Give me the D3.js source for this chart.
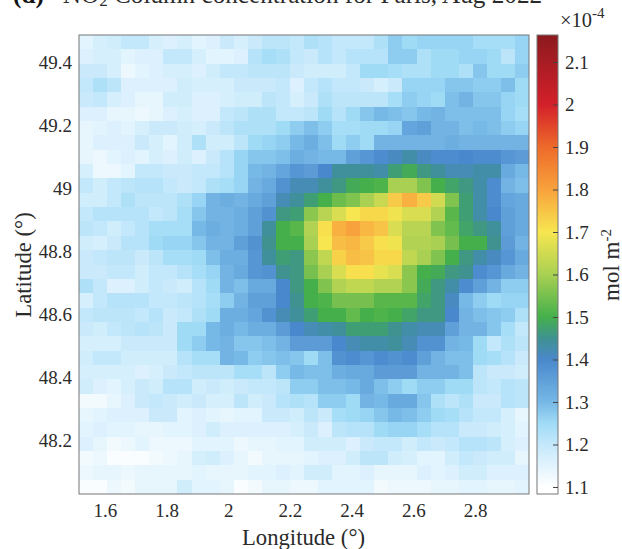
<!DOCTYPE html>
<html><head><meta charset="utf-8">
<script src="https://d3js.org/d3.v7.min.js"></script>
<style>html,body{margin:0;padding:0;background:#fff}svg{display:block}text{font-family:"Liberation Serif",serif}</style>
</head><body><svg id="c" width="622" height="549"></svg>
<script>
// NO2 column, in units of 1e-6 mol m-2; rows top (north) to bottom, columns west to east
const grid = [
[115,117,118,120,120,117,116,117,115,116,119,117,119,121,121,120,123,122,120,120,120,123,127,125,126,126,126,126,124,124,124,126],
[116,117,117,115,116,116,120,120,117,115,115,116,122,124,123,120,119,122,120,122,122,122,127,127,123,125,125,126,126,125,121,126],
[119,119,117,113,115,116,117,117,116,118,120,120,121,121,121,119,118,118,118,120,125,125,124,123,123,125,125,123,128,125,125,127],
[120,123,121,116,116,116,116,118,117,117,117,119,119,119,120,116,120,122,120,120,119,117,119,126,126,126,128,128,127,127,129,125],
[119,120,117,116,114,114,118,118,116,116,117,118,118,121,120,117,119,123,121,121,121,121,124,127,126,125,129,131,128,128,126,125],
[116,116,114,114,113,114,116,117,116,116,120,121,123,123,120,120,121,125,122,125,128,130,129,128,130,131,129,129,129,129,126,124],
[114,115,116,115,117,119,119,118,117,119,121,123,123,123,125,127,129,127,124,124,125,125,126,134,135,131,131,129,130,129,127,126],
[114,116,116,116,119,117,115,118,123,118,118,121,125,126,127,130,132,129,125,127,125,131,131,131,131,131,132,131,131,131,131,131],
[114,113,115,116,115,117,116,118,116,119,122,126,128,128,129,132,131,130,130,135,137,139,141,143,141,139,139,140,139,139,137,136],
[117,113,113,115,120,120,119,119,120,120,122,126,130,131,134,137,136,140,144,144,144,143,147,149,146,144,142,142,143,143,133,130],
[120,118,120,121,122,122,120,119,120,123,124,126,131,133,138,142,142,144,146,149,150,151,160,160,156,150,148,146,143,139,131,129],
[118,118,120,123,121,121,121,123,126,131,132,131,133,135,142,144,147,150,154,156,160,164,174,178,174,165,156,147,143,139,134,133],
[120,122,122,122,122,120,121,124,128,131,131,132,135,138,146,147,157,162,166,170,172,172,169,166,166,161,152,147,143,140,135,133],
[121,120,118,120,122,124,124,124,130,132,131,132,135,144,150,152,161,171,178,180,177,175,166,162,162,156,153,148,146,144,135,133],
[118,117,119,122,122,125,126,126,128,131,131,135,138,145,150,150,160,170,176,177,174,171,169,161,161,160,155,150,150,145,136,131],
[119,120,121,121,119,121,124,124,125,129,132,132,137,144,147,146,157,163,173,176,175,172,172,163,160,156,150,146,143,141,137,133],
[119,119,120,120,118,120,120,122,124,126,131,133,137,138,145,146,155,160,166,171,171,168,166,157,150,149,146,145,139,137,133,131],
[123,120,116,116,118,120,119,118,122,125,131,129,133,133,140,146,150,156,161,163,163,161,161,157,149,146,143,139,135,131,127,127],
[117,120,122,122,122,120,120,121,122,124,127,131,135,135,140,145,150,151,155,155,155,152,152,152,148,146,141,130,127,125,126,126],
[120,121,121,121,120,122,119,120,123,125,132,132,134,138,142,144,147,150,150,153,150,151,150,148,146,146,140,131,129,128,127,123],
[119,118,120,121,122,121,119,125,125,130,132,130,132,132,136,140,142,143,144,147,147,147,145,143,142,142,135,131,131,128,124,120],
[117,117,117,119,119,119,119,125,127,130,131,128,128,129,131,136,136,136,140,142,143,143,144,142,138,138,131,130,125,120,123,121],
[118,120,120,118,118,118,118,122,124,124,131,130,127,128,129,128,125,129,138,139,137,139,138,139,135,131,129,129,125,124,122,119],
[117,117,117,117,116,117,119,120,121,121,121,124,124,121,127,130,129,129,132,133,133,136,136,136,131,131,131,129,121,119,119,118],
[118,116,115,117,119,118,122,122,118,119,118,119,120,120,121,127,127,129,129,130,133,129,127,125,127,127,125,125,121,120,122,121],
[112,112,114,116,119,120,119,118,119,117,117,121,118,119,122,123,122,127,127,125,131,130,133,133,128,123,121,123,119,119,122,121],
[114,115,116,116,116,119,119,115,116,115,114,115,115,119,119,118,121,119,124,125,126,128,130,129,127,125,124,122,120,120,117,114],
[115,116,115,115,114,114,115,115,116,118,116,116,116,116,116,117,119,116,121,122,122,125,126,126,124,122,122,119,119,118,117,115],
[116,114,112,113,115,113,113,113,115,115,115,113,114,114,115,115,118,118,118,116,119,120,120,118,120,119,120,122,122,121,117,116],
[112,113,111,111,111,112,113,114,117,118,116,114,112,114,114,114,115,116,116,118,121,121,118,117,115,115,118,120,119,118,118,114],
[113,114,114,113,114,114,114,114,115,114,114,114,115,115,116,115,118,118,115,115,116,114,114,114,116,115,116,118,118,116,116,116],
[111,111,113,112,114,114,114,118,115,115,114,111,112,114,114,113,113,115,115,115,115,112,113,113,113,114,114,115,115,114,114,115]
];
const lonDomain = [1.516, 2.975];
const latDomain = [48.03, 49.486];
const lonTicks = [1.6,1.8,2,2.2,2.4,2.6,2.8];
const latTicks = [48.2,48.4,48.6,48.8,49,49.2,49.4];
const cbDomain = [108.35, 216.35];
const cbTicks = [110,120,130,140,150,160,170,180,190,200,210];
const colorStops = [110,120,125,130,140,145,150,160,170,180,190,200,210,216.35];
const colorHex = ["#ffffff","#c4e8fb","#a0dbf6","#76b8e6","#4a88cc","#3f9290","#45b04b","#a9d052","#f7e650","#f8a23c","#ee6a2a","#d3202a","#a81c24","#8b1a1e"];
const title = "NO";
const titleRest = " Column concentration for Paris, Aug 2022";
const ink = "#2b2b2b";

const P = {l:79,r:529,t:35,b:494};
const svg = d3.select("#c");
const defs = svg.append("defs");
defs.append("filter").attr("id","soft").attr("x","-2%").attr("y","-2%").attr("width","104%").attr("height","104%")
  .append("feGaussianBlur").attr("stdDeviation",0.55);
defs.append("clipPath").attr("id","plot").append("rect")
  .attr("x",P.l).attr("y",P.t).attr("width",P.r-P.l).attr("height",P.b-P.t);
const color = d3.scaleLinear().domain(colorStops).range(colorHex).clamp(true);
const x = d3.scaleLinear().domain(lonDomain).range([P.l,P.r]);
const y = d3.scaleLinear().domain(latDomain).range([P.b,P.t]);
const bx = d3.scaleBand().domain(d3.range(32)).range([P.l,P.r]);
const by = d3.scaleBand().domain(d3.range(32)).range([P.t,P.b]);

svg.append("g").attr("clip-path","url(#plot)").append("g").attr("filter","url(#soft)")
  .attr("shape-rendering","crispEdges").selectAll("g").data(grid).join("g")
  .each(function(row,i){
    d3.select(this).selectAll("rect").data(row).join("rect")
      .attr("x",(d,j)=>bx(j)).attr("y",by(i))
      .attr("width",bx.bandwidth()+0.5).attr("height",by.bandwidth()+0.5)
      .attr("fill",d=>color(d));
  });
svg.append("rect").attr("x",P.l).attr("y",P.t).attr("width",P.r-P.l).attr("height",P.b-P.t)
  .attr("fill","none").attr("stroke","#777").attr("stroke-width",1);

const tickFs = 19;
const ax = svg.append("g").attr("transform",`translate(0,${P.b})`)
  .call(d3.axisBottom(x).tickValues(lonTicks).tickSize(0).tickPadding(10).tickFormat(d3.format("~g")));
ax.select(".domain").remove();
const ay = svg.append("g").attr("transform",`translate(${P.l},0)`)
  .call(d3.axisLeft(y).tickValues(latTicks).tickSize(0).tickPadding(7).tickFormat(d3.format("~g")));
ay.select(".domain").remove();
svg.selectAll("g.tick text").attr("font-size",tickFs).attr("fill",ink).attr("font-family","Liberation Serif");

svg.append("text").attr("x",303.5).attr("y",545).attr("text-anchor","middle")
  .attr("font-size",22.7).attr("fill",ink).text("Longitude (°)");
svg.append("text").attr("transform","translate(31,265) rotate(-90)").attr("text-anchor","middle")
  .attr("font-size",22.7).attr("fill",ink).text("Latitude (°)");

// title, cut by the top of the picture as in the reference
const t = svg.append("text").attr("x",13).attr("y",3).attr("font-size",25.2).attr("fill",ink);
t.append("tspan").attr("font-weight","bold").attr("fill","#111").text("(d)");
t.append("tspan").attr("dx",19).text(title);
t.append("tspan").attr("dy",3).attr("font-size",17).text("2");
t.append("tspan").attr("dy",-3).text(titleRest);

// colorbar
const cb = {l:537,r:558};
const cy = d3.scaleLinear().domain(cbDomain).range([P.b,P.t]);
const rows = d3.range(P.t,P.b);
svg.append("g").attr("shape-rendering","crispEdges").selectAll("rect").data(rows).join("rect")
  .attr("x",cb.l).attr("width",cb.r-cb.l).attr("y",d=>d).attr("height",1.5)
  .attr("fill",d=>color(cy.invert(d+0.5)));
svg.append("rect").attr("x",cb.l).attr("y",P.t).attr("width",cb.r-cb.l).attr("height",P.b-P.t)
  .attr("fill","none").attr("stroke","#777");
const ac = svg.append("g").attr("transform",`translate(${cb.r},0)`)
  .call(d3.axisRight(cy).tickValues(cbTicks).tickSize(0).tickPadding(7).tickFormat(d=>d3.format("~g")(d/100)));
ac.select(".domain").remove();
ac.selectAll("text").attr("font-size",tickFs).attr("fill",ink).attr("font-family","Liberation Serif");
ac.selectAll(".tick").append("line").attr("x1",-5).attr("x2",0).attr("stroke","#444");

const e = svg.append("text").attr("x",560).attr("y",27).attr("font-size",20.4).attr("fill",ink);
e.append("tspan").text("×10");
e.append("tspan").attr("dy",-9).attr("font-size",15).text("-4");

const u = svg.append("text").attr("transform","translate(619,301) rotate(-90)")
  .attr("font-size",23).attr("fill",ink);
u.append("tspan").text("mol m");
u.append("tspan").attr("dy",-8).attr("font-size",15).text("-2");
</script></body></html>
